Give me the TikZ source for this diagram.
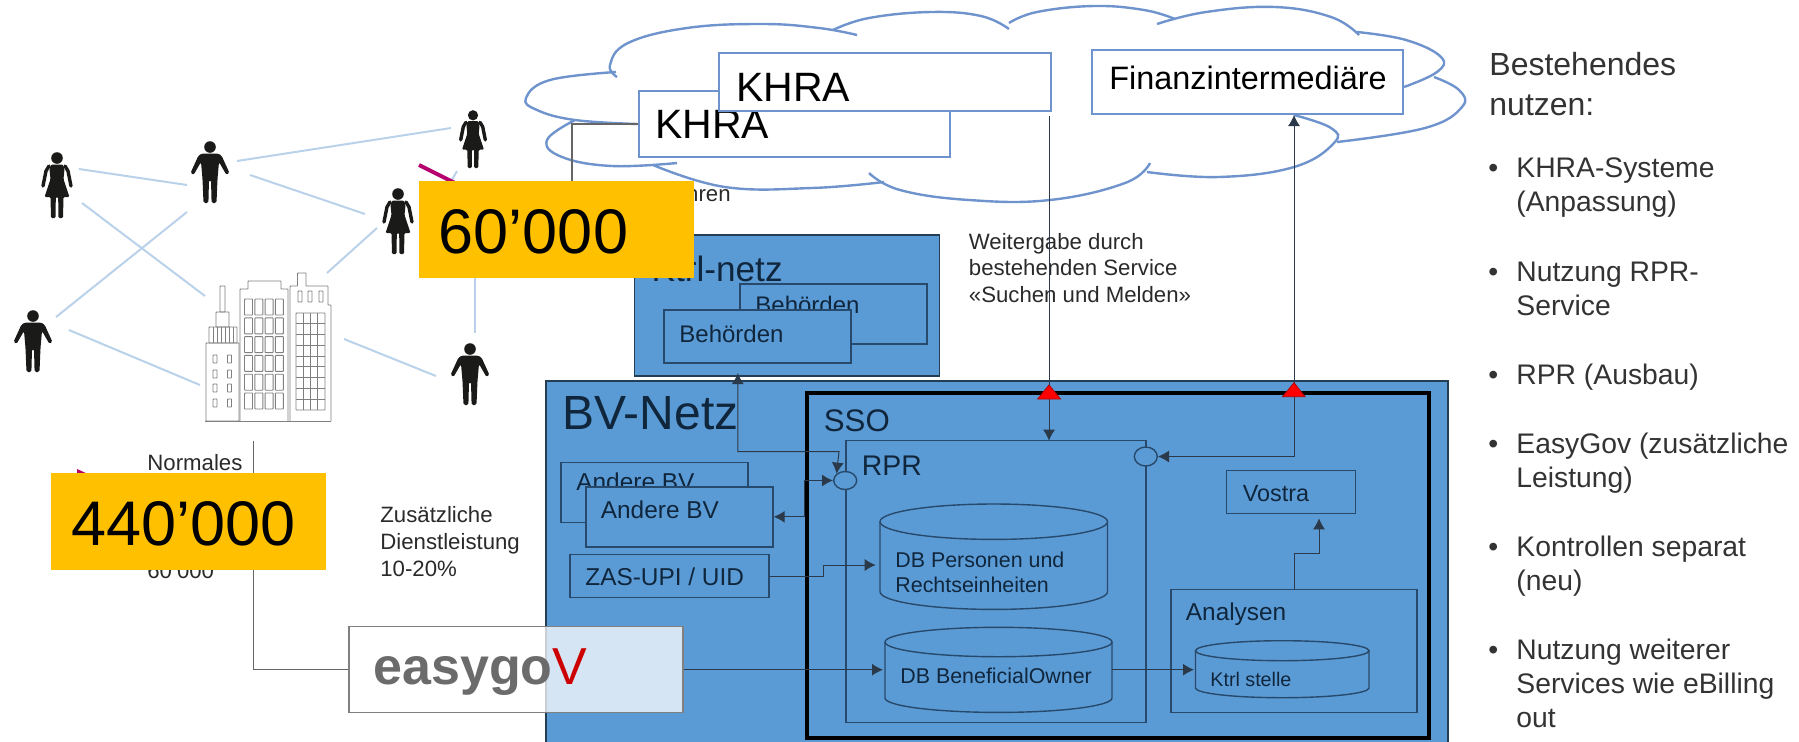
\documentclass[tikz,border=0pt]{standalone}
\usepackage{fontspec}
\setmainfont{Liberation Sans}
\usepackage{xcolor}
\usetikzlibrary{arrows.meta,shapes.geometric}

\definecolor{bvblue}{HTML}{5B9BD5}
\definecolor{cloudblue}{HTML}{6F94CD}
\definecolor{linkblue}{HTML}{B9D2EA}
\definecolor{inkblue}{HTML}{27496B}
\definecolor{textblue}{HTML}{10263C}
\definecolor{connink}{HTML}{2B3A4A}
\definecolor{txtgrey}{HTML}{2A2A2A}
\definecolor{wiregrey}{HTML}{666666}
\definecolor{bldggrey}{HTML}{808080}
\definecolor{figblack}{HTML}{1A1A18}
\definecolor{orangeflag}{HTML}{FFC000}
\definecolor{pinkmark}{HTML}{B5006E}

\tikzset{
  txt/.style={anchor=base west,inner sep=0pt,align=left,text=txtgrey},
  paneltxt/.style={txt,text=textblue},
  small/.style={font=\fontsize{11.1}{13.4}\selectfont},
  list/.style={txt,font=\fontsize{14.15}{17}\selectfont,text=black!80},
  cloudline/.style={draw=cloudblue,line width=1.2pt},
  whitebox/.style={draw=cloudblue,line width=1.1pt,fill=white,inner sep=0pt},
  panel/.style={draw=inkblue,line width=.7pt,fill=bvblue,inner sep=0pt},
  outer/.style={draw=black!60!bvblue,line width=.8pt,fill=bvblue,inner sep=0pt},
  conn/.style={draw=connink,line width=.5pt,>={Latex[length=5.5pt,width=6pt]}},
  wire/.style={draw=wiregrey,line width=.7pt},
  link/.style={draw=linkblue,line width=1pt},
  bldg/.style={draw=bldggrey,line width=.45pt,rounded corners=.3pt},
  flag/.style={fill=orangeflag,inner sep=0pt,minimum width=137.5pt,minimum height=48.5pt},
  flagtxt/.style={anchor=base west,inner sep=0pt,font=\fontsize{31.5}{36}\selectfont},
  alarm/.style={fill=red,draw=red!70!black,line width=.4pt},
  pics/man/.style={code={
    \fill[figblack] (0,6) circle [radius=5.8];
    \fill[figblack,rounded corners=.8pt] (-8,12.5) -- (8,12.5) -- (11.5,14.5) -- (19.5,32) -- (16.5,34) -- (9,21)
      -- (7.5,38) -- (6.5,62) -- (1.6,62) -- (1,39) -- (-1,39) -- (-1.6,62) -- (-6.5,62) -- (-7.5,38)
      -- (-9,21) -- (-16.5,34) -- (-19.5,32) -- (-11.5,14.5) -- cycle;
  }},
  pics/woman/.style={code={
    \fill[figblack] (0,6) circle [radius=5.8];
    \fill[figblack,rounded corners=.6pt] (-6,12.5) -- (6,12.5) -- (7.5,17) -- (6.5,27) -- (12.5,45) -- (6.5,45) -- (6,66)
      -- (1.4,66) -- (1.2,45) -- (-1.2,45) -- (-1.4,66) -- (-6,66) -- (-6.5,45) -- (-12.5,45) -- (-6.5,27) -- (-7.5,17) -- cycle;
    \draw[figblack,line width=1.7pt,line cap=round] (8,14) -- (11,19) -- (14,34);
    \draw[figblack,line width=1.7pt,line cap=round] (-8,14) -- (-11,19) -- (-14,34);
  }}
}

\begin{document}
\begin{tikzpicture}[x=.5pt,y=-.5pt]
  \useasboundingbox (0,0) rectangle (1799,741);

  % people and how they hang together
  \draw[link] (79,169) -- (187,185);
  \draw[link] (82,203) -- (205,296);
  \draw[link] (187,212) -- (56,317);
  \draw[link] (237,161) -- (451,128);
  \draw[link] (250,175) -- (365,214);
  \draw[link] (377,228) -- (327,273);
  \draw[link] (69,330) -- (200,385);
  \draw[link] (344,339) -- (436,376);
  \draw[link] (475,270) -- (475,333);
  \draw[link] (457,171) -- (449,185);
  \pic at (57,152) {woman};
  \pic at (210,141) {man};
  \pic[scale=.88] at (473,110) {woman};
  \pic at (398,188) {woman};
  \pic at (33,310) {man};
  \pic at (470,343) {man};

  % building
  \draw[bldg,fill=white] (206,343) rectangle (239,421);
  \draw[bldg] (220,286) rectangle (225,312);
  \draw[bldg] (216,312) rectangle (229,327);
  \draw[bldg] (209,327) rectangle (237,343);
  \foreach \sx in {213,217,...,233} \draw[bldg] (\sx,327) -- (\sx,343);
  \foreach \wx in {213,227.5} \foreach \wy in {355,370,384,399}
    \draw[bldg] (\wx,\wy) rectangle +(4,8);
  \draw[bldg] (240,421) -- (240,289) -- (248,289) -- (248,281) -- (281,281) -- (281,289) -- (288,289) -- (288,421);
  \foreach \col in {0,...,3} \foreach \row in {0,...,5}
    \draw[bldg] ({244.5+10.3*\col},{299+18.8*\row}) rectangle +(8,16);
  \draw[bldg] (290,421) -- (290,286) -- (297.5,286) -- (297.5,273) -- (306,273) -- (306,286) -- (328,286) -- (328,305) -- (331,305) -- (331,421);
  \foreach \wx in {298,308,319} \draw[bldg] (\wx,291) rectangle +(4,11);
  \draw[bldg] (296,313) rectangle (325,410);
  \foreach \gx in {303.2,310.5,317.8} \draw[bldg] (\gx,313) -- (\gx,410);
  \foreach \gy in {323.8,334.6,345.3,356.1,366.9,377.7,388.4,399.2} \draw[bldg] (296,\gy) -- (325,\gy);
  \draw[bldg] (205,421) -- (331,421);

  % texts left of the networks
  \node[txt,small] (normal) at (147,470) {Normales};
  \node[txt,small] (normalnum) at (147,578) {60’000};
  \node[txt,small] (extra) at (380,576) {Zusätzliche\\Dienstleistung\\10-20\%};
  \node[txt,small,anchor=base east] (hren) at (731,201.5) {hren};
  \node[txt,small] (relay) at (968.5,302.7) {Weitergabe durch\\bestehenden Service\\«Suchen und Melden»};

  \draw[pinkmark,line width=2pt] (419,165) -- (465,188);
  \fill[pinkmark] (77,469) -- (88,474) -- (77,476) -- cycle;

  % cloud
  \draw[cloudline] plot[smooth,tension=.7] coordinates {(617,77) (610,65) (628,43) (687,28) (762,24) (819,28) (857,35)};
  \draw[cloudline] plot[smooth,tension=.7] coordinates {(833,30) (869,18) (931,12) (981,16) (1009,29)};
  \draw[cloudline] plot[smooth,tension=.7] coordinates {(1009,23) (1037,12) (1094,6) (1144,10) (1175,19)};
  \draw[cloudline] plot[smooth,tension=.7] coordinates {(1157,24) (1206,12) (1275,7) (1331,17) (1359,35)};
  \draw[cloudline] plot[smooth,tension=.7] coordinates {(1357,32) (1406,40) (1441,57) (1437,72) (1404,87)};
  \draw[cloudline] plot[smooth,tension=.7] coordinates {(1434,77) (1459,90) (1462,107) (1425,128) (1337,142)};
  \draw[cloudline] plot[smooth,tension=.7] coordinates {(1294,115) (1331,128) (1334,143) (1294,167) (1219,177) (1147,172)};
  \draw[cloudline] plot[smooth,tension=.7] coordinates {(1150,163) (1125,183) (1050,200) (969,200) (900,190) (869,173)};
  \draw[cloudline] plot[smooth,tension=.7] coordinates {(884,182) (812,188) (725,187) (653,165)};
  \draw[cloudline] plot[smooth,tension=.7] coordinates {(677,163) (612,166) (562,157) (547,140) (575,120)};
  \draw[cloudline] plot[smooth,tension=.7] coordinates {(637,124) (575,120) (537,110) (526,98) (550,80) (616,72)};

  % parties in the cloud
  \node[whitebox,minimum width=155.5pt,minimum height=33pt] (khraback) at (794.5,124) {};
  \node[txt,font=\fontsize{20.5}{24}\selectfont,text=black] (khrabacklbl) at (655,138) {KHRA};
  \node[whitebox,minimum width=166pt,minimum height=29pt] (khrafront) at (885,82) {};
  \node[txt,font=\fontsize{20.5}{24}\selectfont,text=black] (khrafrontlbl) at (736,101) {KHRA};
  \node[whitebox,minimum width=155.5pt,minimum height=32pt] (finanz) at (1247.5,82) {};
  \node[txt,font=\fontsize{16.2}{20}\selectfont,text=black] (finanzlbl) at (1109,89) {Finanzintermediäre};

  % kantonal net
  \node[outer,minimum width=152.5pt,minimum height=70.5pt] (ktrlnetz) at (787,305.5) {};
  \node[paneltxt,font=\fontsize{17.6}{22}\selectfont,anchor=base east] (ktrlnetzlbl) at (783,281.5) {Ktrl-netz};
  \node[panel,minimum width=93.5pt,minimum height=30pt] (behback) at (833.5,314) {};
  \node[paneltxt,font=\fontsize{12}{15}\selectfont] (behbacklbl) at (755,313) {Behörden};
  \node[panel,minimum width=93.5pt,minimum height=26.5pt] (behfront) at (757.5,336.5) {};
  \node[paneltxt,font=\fontsize{12}{15}\selectfont] (behfrontlbl) at (679,342) {Behörden};

  % BV net
  \fill[bvblue,draw=black!60!bvblue,line width=.8pt] (546,381) rectangle (1448,745);
  \node[paneltxt,font=\fontsize{24}{28}\selectfont] (bvlbl) at (562,429) {BV-Netz};
  \node[panel,minimum width=93.5pt,minimum height=30pt] (andereback) at (654.5,492.7) {};
  \node[paneltxt,font=\fontsize{12.2}{15}\selectfont] (anderebacklbl) at (576,490) {Andere BV};
  \node[panel,minimum width=93.5pt,minimum height=30pt] (anderefront) at (679.5,516.8) {};
  \node[paneltxt,font=\fontsize{12.2}{15}\selectfont] (anderefrontlbl) at (600.5,518.3) {Andere BV};
  \node[panel,minimum width=99.5pt,minimum height=21.7pt] (zas) at (669.5,576) {};
  \node[paneltxt,font=\fontsize{12.2}{15}\selectfont] (zaslbl) at (585,585.7) {ZAS-UPI / UID};

  % SSO and RPR
  \node[draw=black,line width=2pt,inner sep=0pt,minimum width=311pt,minimum height=172.5pt] (sso) at (1118,565.2) {};
  \node[paneltxt,font=\fontsize{15.6}{18}\selectfont] (ssolbl) at (823.5,431) {SSO};
  \node[draw=inkblue,line width=.7pt,inner sep=0pt,minimum width=150pt,minimum height=141pt] (rpr) at (996,581.7) {};
  \node[paneltxt,font=\fontsize{14.2}{17}\selectfont] (rprlbl) at (861.5,475) {RPR};
  \node[panel,ellipse,minimum width=11.5pt,minimum height=9pt] (rprin) at (845.2,480.5) {};
  \node[panel,ellipse,minimum width=11.5pt,minimum height=9.5pt] (rprout) at (1145.8,456.5) {};

  % data stores
  \draw[panel] (880,521.7) -- (880,591.7) arc[start angle=180,end angle=0,x radius=113.75,y radius=17.7] -- (1107.5,521.7);
  \draw[panel] (993.75,521.7) ellipse [x radius=113.75,y radius=17.7];
  \node[paneltxt,font=\fontsize{10.7}{12.85}\selectfont] (dbperslbl) at (895,592.7) {DB Personen und\\Rechtseinheiten};
  \draw[panel] (885,642) -- (885,698) arc[start angle=180,end angle=0,x radius=113.5,y radius=14.4] -- (1112,642);
  \draw[panel] (998.5,642) ellipse [x radius=113.5,y radius=14.7];
  \node[paneltxt,font=\fontsize{10.7}{13}\selectfont] (dbownlbl) at (900,683) {DB BeneficialOwner};

  \node[panel,minimum width=123pt,minimum height=61.5pt] (analysen) at (1294,651) {};
  \node[paneltxt,font=\fontsize{12.2}{15}\selectfont] (analysenlbl) at (1185.5,620.7) {Analysen};
  \draw[panel] (1195.5,650.7) -- (1195.5,688) arc[start angle=180,end angle=0,x radius=86.75,y radius=9.7] -- (1369,650.7);
  \draw[panel] (1282.25,650.7) ellipse [x radius=86.75,y radius=10];
  \node[paneltxt,font=\fontsize{9.85}{12}\selectfont] (ktrlstlbl) at (1210,686.7) {Ktrl stelle};
  \node[panel,minimum width=64.5pt,minimum height=21.3pt] (vostra) at (1291,492) {};
  \node[paneltxt,font=\fontsize{11.7}{14}\selectfont] (vostralbl) at (1242.5,501.7) {Vostra};

  % easygov
  \node[draw=bldggrey,line width=.7pt,fill=white,fill opacity=.75,text opacity=1,inner sep=0pt,minimum width=167pt,minimum height=43pt] (easygov) at (516,669.7) {};
  \node[anchor=base west,inner sep=0pt,text=black!58,font=\bfseries\fontsize{26}{30}\selectfont] (easygovlbl) at (373,684) {easygo\textcolor{red!80!black}{\mdseries V}};

  % where things meet
  \coordinate (cablend) at (572,240);
  \coordinate (normaltop) at (253.4,441);
  \coordinate (ktrlpin) at (737.8,373);
  \coordinate (bendone) at (839,451.7);
  \coordinate (bendtwo) at (804,480.5);
  \coordinate (bendthree) at (823,565);
  \coordinate (dbperspin) at (875.7,565);
  \coordinate (dbownpin) at (883,669.7);
  \coordinate (dbownout) at (1112,669.7);
  \coordinate (ktrlstpin) at (1194,669.7);
  \coordinate (anaout) at (1294,589.3);
  \coordinate (vostrabend) at (1319,553.3);
  \coordinate (vostrapin) at (1319,518.3);
  \coordinate (khrapin) at (1049,116);
  \coordinate (rprtop) at (1049,440.7);
  \coordinate (finanzpin) at (1294,115);

  \draw[wire] (khraback.west) -| (cablend);
  \draw[wire] (easygov.west) -| (normaltop);
  \draw[conn,<->] (ktrlpin) |- (bendone) -- (rprin.north west);
  \draw[conn,<->] (anderefront.east) -| (bendtwo) -- (rprin.west);
  \draw[conn,->] (zas.east) -| (bendthree) -- (dbperspin);
  \draw[conn,->] (easygov.east) -- (dbownpin);
  \draw[conn,->] (dbownout) -- (ktrlstpin);
  \draw[conn,->] (anaout) |- (vostrabend) -- (vostrapin);
  \draw[conn,->] (khrapin) -- (rprtop);
  \draw[conn,<->] (finanzpin) |- (rprout.east);
  \draw[alarm] (1049,385) -- (1037.6,399) -- (1060.5,399) -- cycle;
  \draw[alarm] (1294,382.7) -- (1282.5,396.7) -- (1305,396.7) -- cycle;

  % right column
  \node[txt,font=\fontsize{16}{20}\selectfont,text=black!80] (reuse) at (1489,115) {Bestehendes\\nutzen:};
  \node[list] (dota) at (1488,177) {•};
  \node[list] (itema) at (1516,211) {KHRA-Systeme\\(Anpassung)};
  \node[list] (dotb) at (1488,281) {•};
  \node[list] (itemb) at (1516,315) {Nutzung RPR-\\Service};
  \node[list] (dotc) at (1488,384) {•};
  \node[list] (itemc) at (1516,384) {RPR (Ausbau)};
  \node[list] (dotd) at (1488,453) {•};
  \node[list] (itemd) at (1516,487) {EasyGov (zusätzliche\\Leistung)};
  \node[list] (dote) at (1488,556) {•};
  \node[list] (iteme) at (1516,590) {Kontrollen separat\\(neu)};
  \node[list] (dotf) at (1488,659) {•};
  \node[list] (itemf) at (1516,727) {Nutzung weiterer\\Services wie eBilling\\out};

  % numbers on top
  \node[flag] (flagtop) at (556.5,229.5) {};
  \node[flagtxt] (flagtoplbl) at (438.5,253) {60’000};
  \node[flag] (flagleft) at (188.5,521.5) {};
  \node[flagtxt] (flagleftlbl) at (71,545) {440’000};
\end{tikzpicture}
\end{document}
